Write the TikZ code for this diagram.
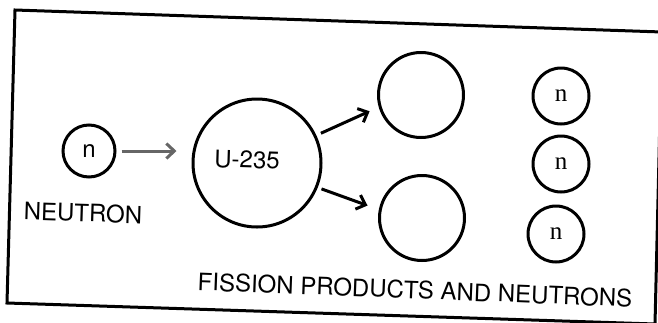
\documentclass[tikz,border=0pt]{standalone}
\usepackage{fontspec}
\setmainfont{TeX Gyre Heros}
\newfontfamily\serifn{Liberation Serif}
\usetikzlibrary{arrows.meta, calc}

\tikzset{
  particle/.style={draw, circle, line width=3pt, inner sep=0pt},
  neutron/.style={particle, minimum size=56pt},
  fragment/.style={particle, minimum size=85pt},
  caption/.style={inner sep=0pt, rotate=-1.8},
  react/.style={line width=3pt, -{Straight Barb[length=8pt,width=15pt]}},
}

\begin{document}
\begin{tikzpicture}[x=1pt,y=-1pt,font=\fontsize{24}{28}\selectfont]
  \clip (0,0) rectangle (658,322);
  % slightly skewed frame of the scan
  \draw[line width=3pt] (15,10) -- (662,32) -- (655,324) -- (7,303) -- cycle;
  \node[neutron, minimum size=52pt] (nin) at (89,151) {n};
  \node[caption] (nlab) at (83,213) {NEUTRON};
  \node[particle, minimum size=128pt,
        label={[caption, xshift=-10pt, yshift=3pt]center:U-235}] (u) at (257,163) {};
  \node[fragment] (p1) at (421,95) {};
  \node[fragment] (p2) at (422,218) {};
  \node[neutron, font=\serifn\fontsize{25}{28}\selectfont] (n1) at (561,96) {n};
  \node[neutron, font=\serifn\fontsize{25}{28}\selectfont] (n2) at (561,164) {n};
  \node[neutron, font=\serifn\fontsize{25}{28}\selectfont] (n3) at (556,234) {n};
  \node[caption, rotate=-0.4] (flab) at (415,290) {FISSION PRODUCTS AND NEUTRONS};
  \draw[react, black!60, shorten <=5pt, shorten >=15pt] (nin.east) -- (nin.east -| u.west);
  \draw[react, shorten <=5pt, shorten >=10pt] (u.25) -- (p1.196);
  \draw[react, shorten <=4pt, shorten >=12pt] (u.-22) -- (p2.169);
\end{tikzpicture}
\end{document}
